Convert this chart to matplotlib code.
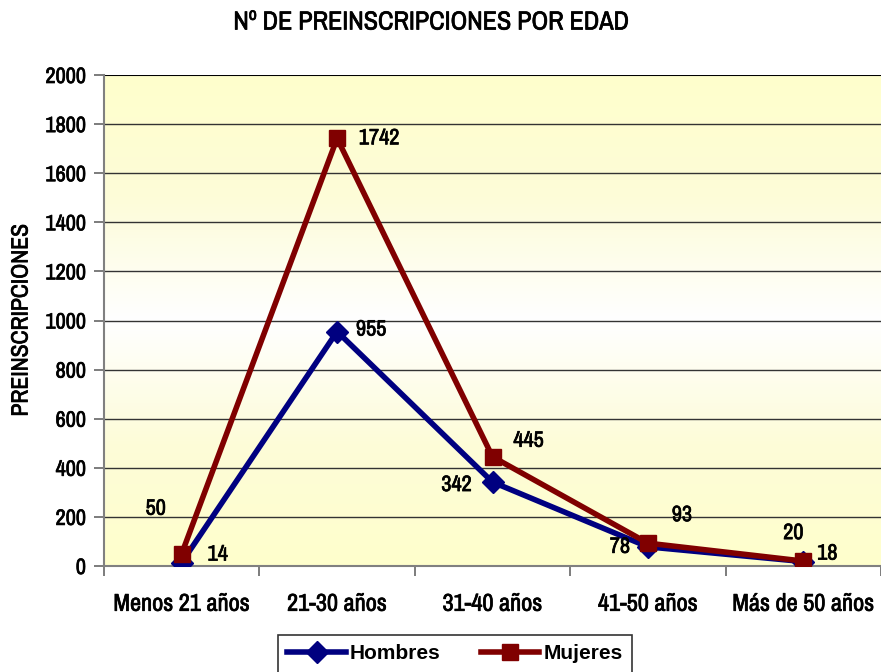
import matplotlib
matplotlib.use("Agg")
import matplotlib.pyplot as plt
import matplotlib.patheffects as pe
import numpy as np

categories = ["Menos 21 años", "21-30 años", "31-40 años", "41-50 años", "Más de 50 años"]
hombres = [14, 955, 342, 78, 18]
mujeres = [50, 1742, 445, 93, 20]

# label offsets in pixels (dx, dy) for each point
off_h = [(36, 8), (34, 2), (-36, -3), (-28, 0), (24, 8)]
off_m = [(-26, 45), (42, 0), (36, 16), (34, 28), (-10, 28)]

# narrow font like Arial Narrow, fall back to a condensed DejaVu
plt.rcParams["font.family"] = ["Archivo Narrow", "DejaVu Sans"]
plt.rcParams["font.stretch"] = "condensed"
heavy = [pe.withStroke(linewidth=0.5, foreground="black")]

fig = plt.figure(figsize=(8.81, 6.72), dpi=100)
ax = fig.add_axes([104 / 881, 1 - 566 / 672, 777 / 881, 491 / 672])

x = np.arange(len(categories))
ax.set_xlim(-0.5, len(categories) - 0.5)
ax.set_ylim(0, 2000)

# yellow-white-yellow background gradient
grad = np.abs(np.linspace(-1, 1, 256))[:, None]
cmap = matplotlib.colors.LinearSegmentedColormap.from_list("bg", ["#ffffff", "#fdfcd8", "#ffffcc"])
ax.imshow(grad, aspect="auto", cmap=cmap, extent=[-0.5, len(categories) - 0.5, 0, 2000],
          origin="upper", zorder=0, interpolation="bicubic")

for yv in range(200, 2001, 200):
    ax.axhline(yv, color="#333333" if yv < 2000 else "black", lw=1.0 if yv < 2000 else 1.5, zorder=1)

ax.plot(x, hombres, color="#000080", lw=4, marker="D", markersize=11, label="Hombres", zorder=3)
ax.plot(x, mujeres, color="#800000", lw=4, marker="s", markersize=12, label="Mujeres", zorder=4)

for i in range(len(categories)):
    ax.annotate(str(hombres[i]), (x[i], hombres[i]), xytext=off_h[i], textcoords="offset pixels",
                ha="center", va="center", fontsize=16, zorder=5, path_effects=heavy)
    ax.annotate(str(mujeres[i]), (x[i], mujeres[i]), xytext=off_m[i], textcoords="offset pixels",
                ha="center", va="center", fontsize=16, zorder=5, path_effects=heavy)

ax.set_xticks(x)
ax.set_xticklabels(categories)
ax.set_xticks(np.arange(-0.5, len(categories), 1), minor=True)
ax.tick_params(axis="x", which="major", length=0, pad=20, labelsize=17.5)
ax.tick_params(axis="x", which="minor", length=7, color="#666666", width=1.2)
ax.set_yticks(range(0, 2001, 200))
ax.tick_params(axis="y", length=7, color="#666666", width=1.2, labelsize=16, pad=6)
for lbl in ax.get_xticklabels() + ax.get_yticklabels():
    lbl.set_path_effects(heavy)

for s in ["top", "right"]:
    ax.spines[s].set_visible(False)
ax.spines["left"].set_color("#808080")
ax.spines["left"].set_linewidth(1.5)
ax.spines["bottom"].set_color("#808080")
ax.spines["bottom"].set_linewidth(1.5)

ax.set_ylabel("PREINSCRIPCIONES", fontsize=17, labelpad=10, path_effects=heavy)
fig.text(432 / 881, 1 - 22 / 672, "Nº DE PREINSCRIPCIONES POR EDAD", ha="center", va="center",
         fontsize=18.8, path_effects=heavy)

leg = fig.legend(loc="upper left", bbox_to_anchor=(278 / 881, 0, 354 / 881, 37 / 672),
                 mode="expand", ncol=2, frameon=True, fancybox=False, edgecolor="black",
                 prop={"family": ["Liberation Sans", "DejaVu Sans"], "weight": "bold",
                       "size": 15, "stretch": "normal"},
                 handlelength=2.8, borderaxespad=0, columnspacing=1.0, handletextpad=0.2,
                 borderpad=0.45)
leg.get_frame().set_linewidth(1.2)

fig.savefig("out.png", dpi=100)
